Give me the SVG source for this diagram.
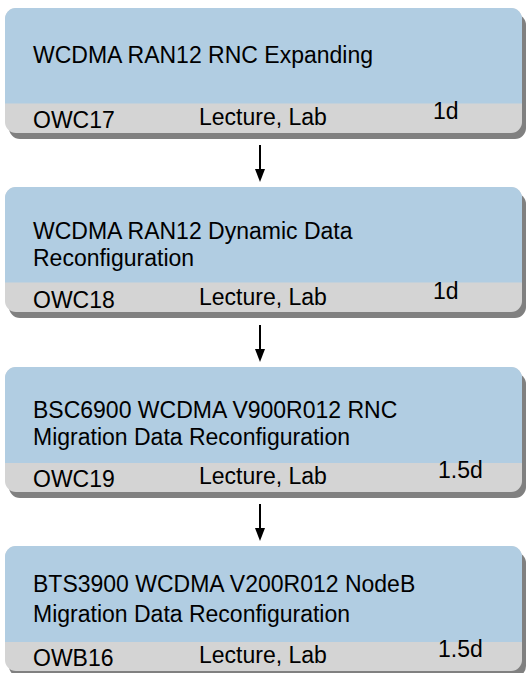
<svg xmlns="http://www.w3.org/2000/svg" width="530" height="673" viewBox="0 0 530 673">
<defs>
<style>
.shadow{fill:#808080}
.band{fill:#D4D4D4}
.top{fill:#B1CDE2}
text{font-family:"Liberation Sans",Arial,sans-serif;font-size:23px;fill:#000}
.conn{stroke:#000;stroke-width:2;fill:none}
</style>
<marker id="ah" viewBox="0 0 10 12" refX="5" refY="12" markerWidth="10" markerHeight="12" markerUnits="userSpaceOnUse" orient="auto-start-reverse">
<path d="M0,0 L10,0 L5,12 Z" fill="#000"/>
</marker>
<marker id="ad" viewBox="0 0 12 10" refX="12" refY="5" markerWidth="12" markerHeight="10" markerUnits="userSpaceOnUse" orient="auto">
<path d="M0,0 L12,5 L0,10 Z" fill="#000"/>
</marker>
</defs>
<rect width="530" height="673" fill="#fff"/>

<g id="node1">
<rect class="shadow" x="9" y="14" width="517" height="125" rx="11"/>
<rect class="band" x="5" y="8" width="517" height="125" rx="11"/>
<path class="top" d="M5,103.5 V19 A11,11 0 0 1 16,8 H511 A11,11 0 0 1 522,19 V103.5 Z"/>
<text x="33" y="63">WCDMA RAN12 RNC Expanding</text>
<text x="33" y="128">OWC17</text>
<text x="199" y="125">Lecture, Lab</text>
<text x="433" y="119">1d</text>
</g>

<g id="node2">
<rect class="shadow" x="9" y="193" width="517" height="125" rx="11"/>
<rect class="band" x="5" y="187" width="517" height="125" rx="11"/>
<path class="top" d="M5,282.5 V198 A11,11 0 0 1 16,187 H511 A11,11 0 0 1 522,198 V282.5 Z"/>
<text x="33" y="239">WCDMA RAN12 Dynamic Data</text>
<text x="33" y="266">Reconfiguration</text>
<text x="33" y="308">OWC18</text>
<text x="199" y="305">Lecture, Lab</text>
<text x="433" y="299">1d</text>
</g>

<g id="node3">
<rect class="shadow" x="9" y="373" width="517" height="125" rx="11"/>
<rect class="band" x="5" y="367" width="517" height="125" rx="11"/>
<path class="top" d="M5,463 V378 A11,11 0 0 1 16,367 H511 A11,11 0 0 1 522,378 V463 Z"/>
<text x="33" y="418">BSC6900 WCDMA V900R012 RNC</text>
<text x="33" y="445">Migration Data Reconfiguration</text>
<text x="33" y="487">OWC19</text>
<text x="199" y="484">Lecture, Lab</text>
<text x="438" y="478">1.5d</text>
</g>

<g id="node4">
<rect class="shadow" x="9" y="552" width="517" height="125" rx="11"/>
<rect class="band" x="5" y="546" width="517" height="125" rx="11"/>
<path class="top" d="M5,642 V557 A11,11 0 0 1 16,546 H511 A11,11 0 0 1 522,557 V642 Z"/>
<text x="33" y="592">BTS3900 WCDMA V200R012 NodeB</text>
<text x="33" y="622">Migration Data Reconfiguration</text>
<text x="33" y="666">OWB16</text>
<text x="199" y="663">Lecture, Lab</text>
<text x="438" y="657">1.5d</text>
</g>

<g id="connectors">
<line class="conn" x1="260" y1="145" x2="260" y2="170"/>
<path d="M255,169 L265,169 L260,182 Z"/>
<line class="conn" x1="260" y1="325" x2="260" y2="350"/>
<path d="M255,349 L265,349 L260,362 Z"/>
<line class="conn" x1="260" y1="504" x2="260" y2="529"/>
<path d="M255,528 L265,528 L260,541 Z"/>
</g>
</svg>
